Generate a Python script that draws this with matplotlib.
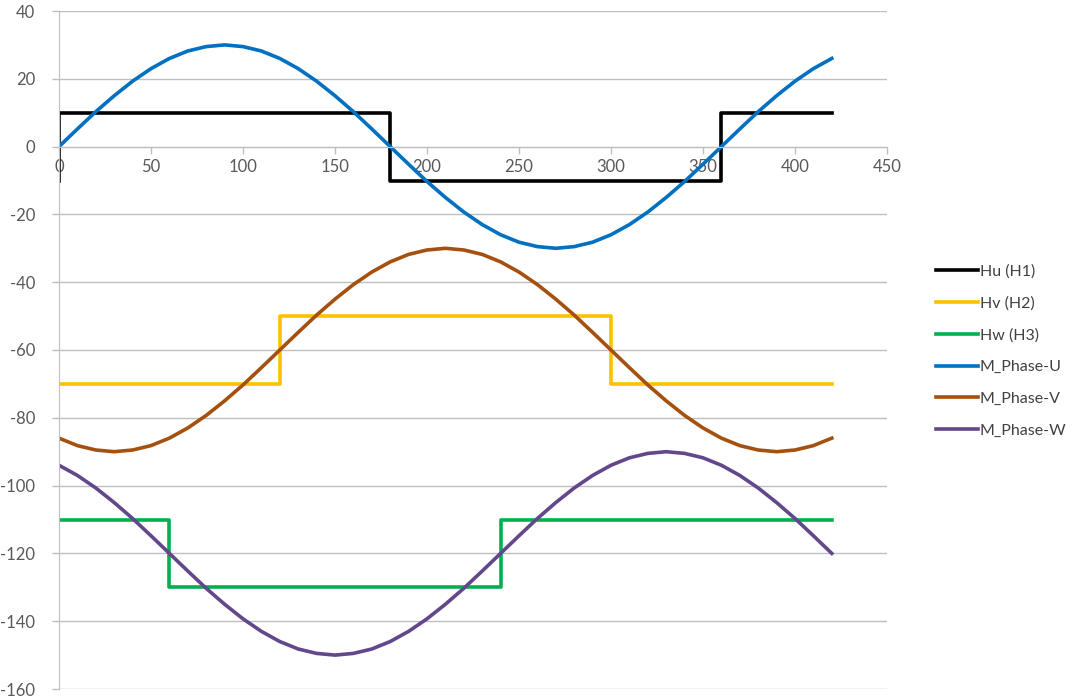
import matplotlib.pyplot as plt

plt.rcParams['font.family'] = ['Lato', 'DejaVu Sans']
plt.rcParams['axes.unicode_minus'] = False

# hall sensor step signals (angle, level)
hu_x = [0, 0, 180, 180, 360, 360, 420]
hu_y = [-10, 10, 10, -10, -10, 10, 10]
hv_x = [0, 120, 120, 300, 300, 420]
hv_y = [-70, -70, -50, -50, -70, -70]
hw_x = [0, 60, 60, 240, 240, 420]
hw_y = [-110, -110, -130, -130, -110, -110]

# motor phase curves, read every 10 degrees
angle = list(range(0, 430, 10))
phase_u = [0, 5.2, 10.3, 15, 19.3, 23, 26, 28.2, 29.5, 30,
           29.5, 28.2, 26, 23, 19.3, 15, 10.3, 5.2, 0,
           -5.2, -10.3, -15, -19.3, -23, -26, -28.2, -29.5, -30,
           -29.5, -28.2, -26, -23, -19.3, -15, -10.3, -5.2, 0,
           5.2, 10.3, 15, 19.3, 23, 26]
phase_v = [-86, -88.2, -89.5, -90, -89.5, -88.2, -86, -83, -79.3, -75,
           -70.3, -65.2, -60, -54.8, -49.7, -45, -40.7, -37, -34,
           -31.8, -30.5, -30, -30.5, -31.8, -34, -37, -40.7, -45,
           -49.7, -54.8, -60, -65.2, -70.3, -75, -79.3, -83, -86,
           -88.2, -89.5, -90, -89.5, -88.2, -86]
phase_w = [-94, -97, -100.7, -105, -109.7, -114.8, -120, -125.2, -130.3, -135,
           -139.3, -143, -146, -148.2, -149.5, -150, -149.5, -148.2, -146,
           -143, -139.3, -135, -130.3, -125.2, -120, -114.8, -109.7, -105,
           -100.7, -97, -94, -91.8, -90.5, -90, -90.5, -91.8, -94,
           -97, -100.7, -105, -109.7, -114.8, -120]

fig = plt.figure(figsize=(10.75, 6.98), dpi=100)
ax = fig.add_axes([59 / 1075, 1 - 689 / 698, 828 / 1075, 678 / 698])

lw = 2.6
ax.plot(hu_x, hu_y, color='#000000', lw=lw, label='Hu (H1)')
ax.plot(hv_x, hv_y, color='#FFC000', lw=lw, label='Hv (H2)')
ax.plot(hw_x, hw_y, color='#00B050', lw=lw, label='Hw (H3)')
ax.plot(angle, phase_u, color='#0070C0', lw=lw, label='M_Phase-U')
ax.plot(angle, phase_v, color='#A5500F', lw=lw, label='M_Phase-V')
ax.plot(angle, phase_w, color='#62478A', lw=lw, label='M_Phase-W')

ax.set_xlim(0, 450)
ax.set_ylim(-160, 40)
ax.set_xticks(range(0, 451, 50))
ax.set_yticks(range(-160, 41, 20))

# horizontal gridlines only
ax.grid(axis='y', color='#BFBFBF', lw=1)
ax.set_axisbelow(True)

ax.spines['top'].set_visible(False)
ax.spines['right'].set_visible(False)
ax.spines['bottom'].set_position(('data', 0))
ax.spines['bottom'].set_color('#BFBFBF')
ax.spines['left'].set_color('#BFBFBF')
ax.tick_params(axis='both', colors='#BFBFBF', labelcolor='#595959',
               labelsize=12, length=5, width=1)
ax.tick_params(axis='x', pad=4)
ax.tick_params(axis='y', pad=12)

ax.legend(loc='center left', bbox_to_anchor=(922 / 1075, 347 / 698),
          bbox_transform=fig.transFigure, frameon=False, fontsize=11.5,
          handlelength=2.6, handletextpad=0.12, labelspacing=1.1,
          labelcolor='#404040')

plt.savefig('out.png', dpi=100)
